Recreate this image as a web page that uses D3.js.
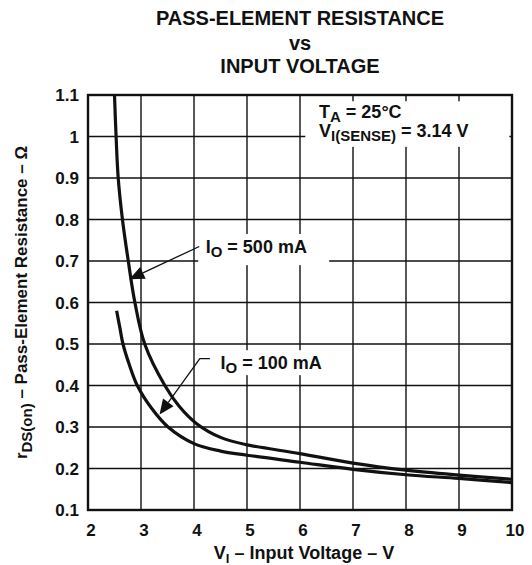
<!DOCTYPE html>
<html>
<head>
<meta charset="utf-8">
<script src="https://cdn.jsdelivr.net/npm/d3@7"></script>
<style>
  html, body { margin: 0; padding: 0; background: #fff; }
  svg { display: block; }
  text { font-family: "Liberation Sans", Arial, Helvetica, sans-serif; font-weight: bold; fill: #111; }
</style>
</head>
<body>
<svg id="chart" width="532" height="565"></svg>
<script>
// ---- data ----
const xTicks = [2, 3, 4, 5, 6, 7, 8, 9, 10];
const yTicks = [0.1, 0.2, 0.3, 0.4, 0.5, 0.6, 0.7, 0.8, 0.9, 1, 1.1];
const yTickLabels = ["0.1", "0.2", "0.3", "0.4", "0.5", "0.6", "0.7", "0.8", "0.9", "1", "1.1"];

const v500 = [2.50, 2.53, 2.57, 2.65, 2.76, 2.885, 3.07, 3.45, 3.72, 4.05, 4.5, 5.0, 6.0, 7.0, 8.0, 9.0, 10.0];
const r500 = [1.10, 1.00, 0.90, 0.80, 0.70, 0.60, 0.50, 0.40, 0.35, 0.308, 0.275, 0.257, 0.236, 0.213, 0.196, 0.184, 0.174];

const v100 = [2.54, 2.60, 2.66, 2.78, 2.93, 3.2, 3.51, 4.0, 4.5, 5.0, 6.0, 7.0, 8.0, 9.0, 10.0];
const r100 = [0.58, 0.54, 0.50, 0.45, 0.40, 0.345, 0.30, 0.26, 0.242, 0.232, 0.215, 0.198, 0.185, 0.176, 0.166];

// ---- layout ----
const svg = d3.select("#chart");
const m = { left: 88, right: 20, top: 95, bottom: 55 };
const W = 532, H = 565;
const x = d3.scaleLinear().domain([2, 10]).range([m.left, W - m.right]);
const y = d3.scaleLinear().domain([0.1, 1.1]).range([H - m.bottom, m.top]);

// grid
const grid = svg.append("g").attr("stroke", "#111").attr("stroke-width", 1.4);
grid.selectAll("line.v").data(xTicks.slice(1, -1)).join("line")
  .attr("x1", d => x(d)).attr("x2", d => x(d))
  .attr("y1", y(1.1)).attr("y2", y(0.1));
grid.selectAll("line.h").data(yTicks.slice(1, -1)).join("line")
  .attr("x1", x(2)).attr("x2", x(10))
  .attr("y1", d => y(d)).attr("y2", d => y(d));

// white boxes behind annotations (grid breaks)
const boxes = [
  { x0: 6.1, x1: 9.95, y0: 1.085, y1: 0.975 },
  { x0: 4.08, x1: 6.55, y0: 0.765, y1: 0.69 },
  { x0: 4.45, x1: 6.65, y0: 0.485, y1: 0.425 }
];
svg.append("g").selectAll("rect").data(boxes).join("rect")
  .attr("x", d => x(d.x0)).attr("y", d => y(d.y0))
  .attr("width", d => x(d.x1) - x(d.x0)).attr("height", d => y(d.y1) - y(d.y0))
  .attr("fill", "#fff");

// frame
svg.append("rect")
  .attr("x", x(2)).attr("y", y(1.1))
  .attr("width", x(10) - x(2)).attr("height", y(0.1) - y(1.1))
  .attr("fill", "none").attr("stroke", "#111").attr("stroke-width", 2.4);

// curves
const line = d3.line().x(d => x(d[0])).y(d => y(d[1])).curve(d3.curveCatmullRom.alpha(0.5));
svg.append("path").datum(d3.zip(v500, r500)).attr("d", line)
  .attr("fill", "none").attr("stroke", "#111").attr("stroke-width", 3.2);
svg.append("path").datum(d3.zip(v100, r100)).attr("d", line)
  .attr("fill", "none").attr("stroke", "#111").attr("stroke-width", 3.2);

// axes tick labels
svg.append("g").selectAll("text").data(yTicks).join("text")
  .attr("x", x(2) - 9).attr("y", d => y(d) + 6)
  .attr("text-anchor", "end").attr("font-size", 17)
  .text((d, i) => yTickLabels[i]);
svg.append("g").selectAll("text").data(xTicks).join("text")
  .attr("x", d => x(d) + 3).attr("y", y(0.1) + 26)
  .attr("text-anchor", "middle").attr("font-size", 17)
  .text(d => d);

// titles
const title = svg.append("text").attr("text-anchor", "middle").attr("font-size", 20);
title.append("tspan").attr("x", 300).attr("y", 25).text("PASS-ELEMENT RESISTANCE");
title.append("tspan").attr("x", 300).attr("y", 50).text("vs");
title.append("tspan").attr("x", 300).attr("y", 73).text("INPUT VOLTAGE");

const xt = svg.append("text").attr("x", 304).attr("y", 559).attr("text-anchor", "middle").attr("font-size", 18);
xt.append("tspan").text("V");
xt.append("tspan").attr("font-size", 13).attr("dy", 4).text("I");
xt.append("tspan").attr("dy", -4).text(" – Input Voltage – V");

const yt = svg.append("text").attr("transform", `translate(27, ${(y(0.1) + y(1.1)) / 2}) rotate(-90)`)
  .attr("text-anchor", "middle").attr("font-size", 17);
yt.append("tspan").text("r");
yt.append("tspan").attr("font-size", 15).attr("dy", 5).text("DS(on)");
yt.append("tspan").attr("dy", -5).text(" – Pass-Element Resistance – Ω");

// conditions
const c1 = svg.append("text").attr("x", 319).attr("y", 118).attr("font-size", 18);
c1.append("tspan").text("T");
c1.append("tspan").attr("font-size", 15).attr("dy", 4).text("A");
c1.append("tspan").attr("dy", -4).text(" = 25°C");
const c2 = svg.append("text").attr("x", 319).attr("y", 137).attr("font-size", 18);
c2.append("tspan").text("V");
c2.append("tspan").attr("font-size", 15).attr("dy", 4).text("I(SENSE)");
c2.append("tspan").attr("dy", -4).text(" = 3.14 V");

// labels with leaders
const notes = [
  { label: "500 mA", tx: 4.22, ty: 0.72, lx: 4.1, ly: 0.735, px: 2.78, py: 0.656 },
  { label: "100 mA", tx: 4.5, ty: 0.44, lx: 4.3, ly: 0.465, px: 3.35, py: 0.33, knee: 4.11 }
];
notes.forEach(n => {
  const t = svg.append("text").attr("x", x(n.tx)).attr("y", y(n.ty)).attr("font-size", 18);
  t.append("tspan").text("I");
  t.append("tspan").attr("font-size", 15).attr("dy", 4).text("O");
  t.append("tspan").attr("dy", -4).text(" = " + n.label);
  const sx = n.knee !== undefined ? x(n.knee) : x(n.lx);
  const sy = y(n.ly);
  const ex = x(n.px), ey = y(n.py);
  const pts = n.knee !== undefined ? [[x(n.lx), sy], [sx, sy]] : [[sx, sy]];
  const ang = Math.atan2(ey - sy, ex - sx);
  const L = 15, Wd = 6.5;
  const bx = ex - L * Math.cos(ang), by = ey - L * Math.sin(ang);
  pts.push([bx, by]);
  svg.append("path").attr("d", d3.line()(pts)).attr("fill", "none").attr("stroke", "#111").attr("stroke-width", 1.3);
  const nx = -Math.sin(ang), ny = Math.cos(ang);
  svg.append("path")
    .attr("d", d3.line()([[ex, ey], [bx + nx * Wd, by + ny * Wd], [bx - nx * Wd, by - ny * Wd]]) + "Z")
    .attr("fill", "#111");
});
</script>
</body>
</html>
